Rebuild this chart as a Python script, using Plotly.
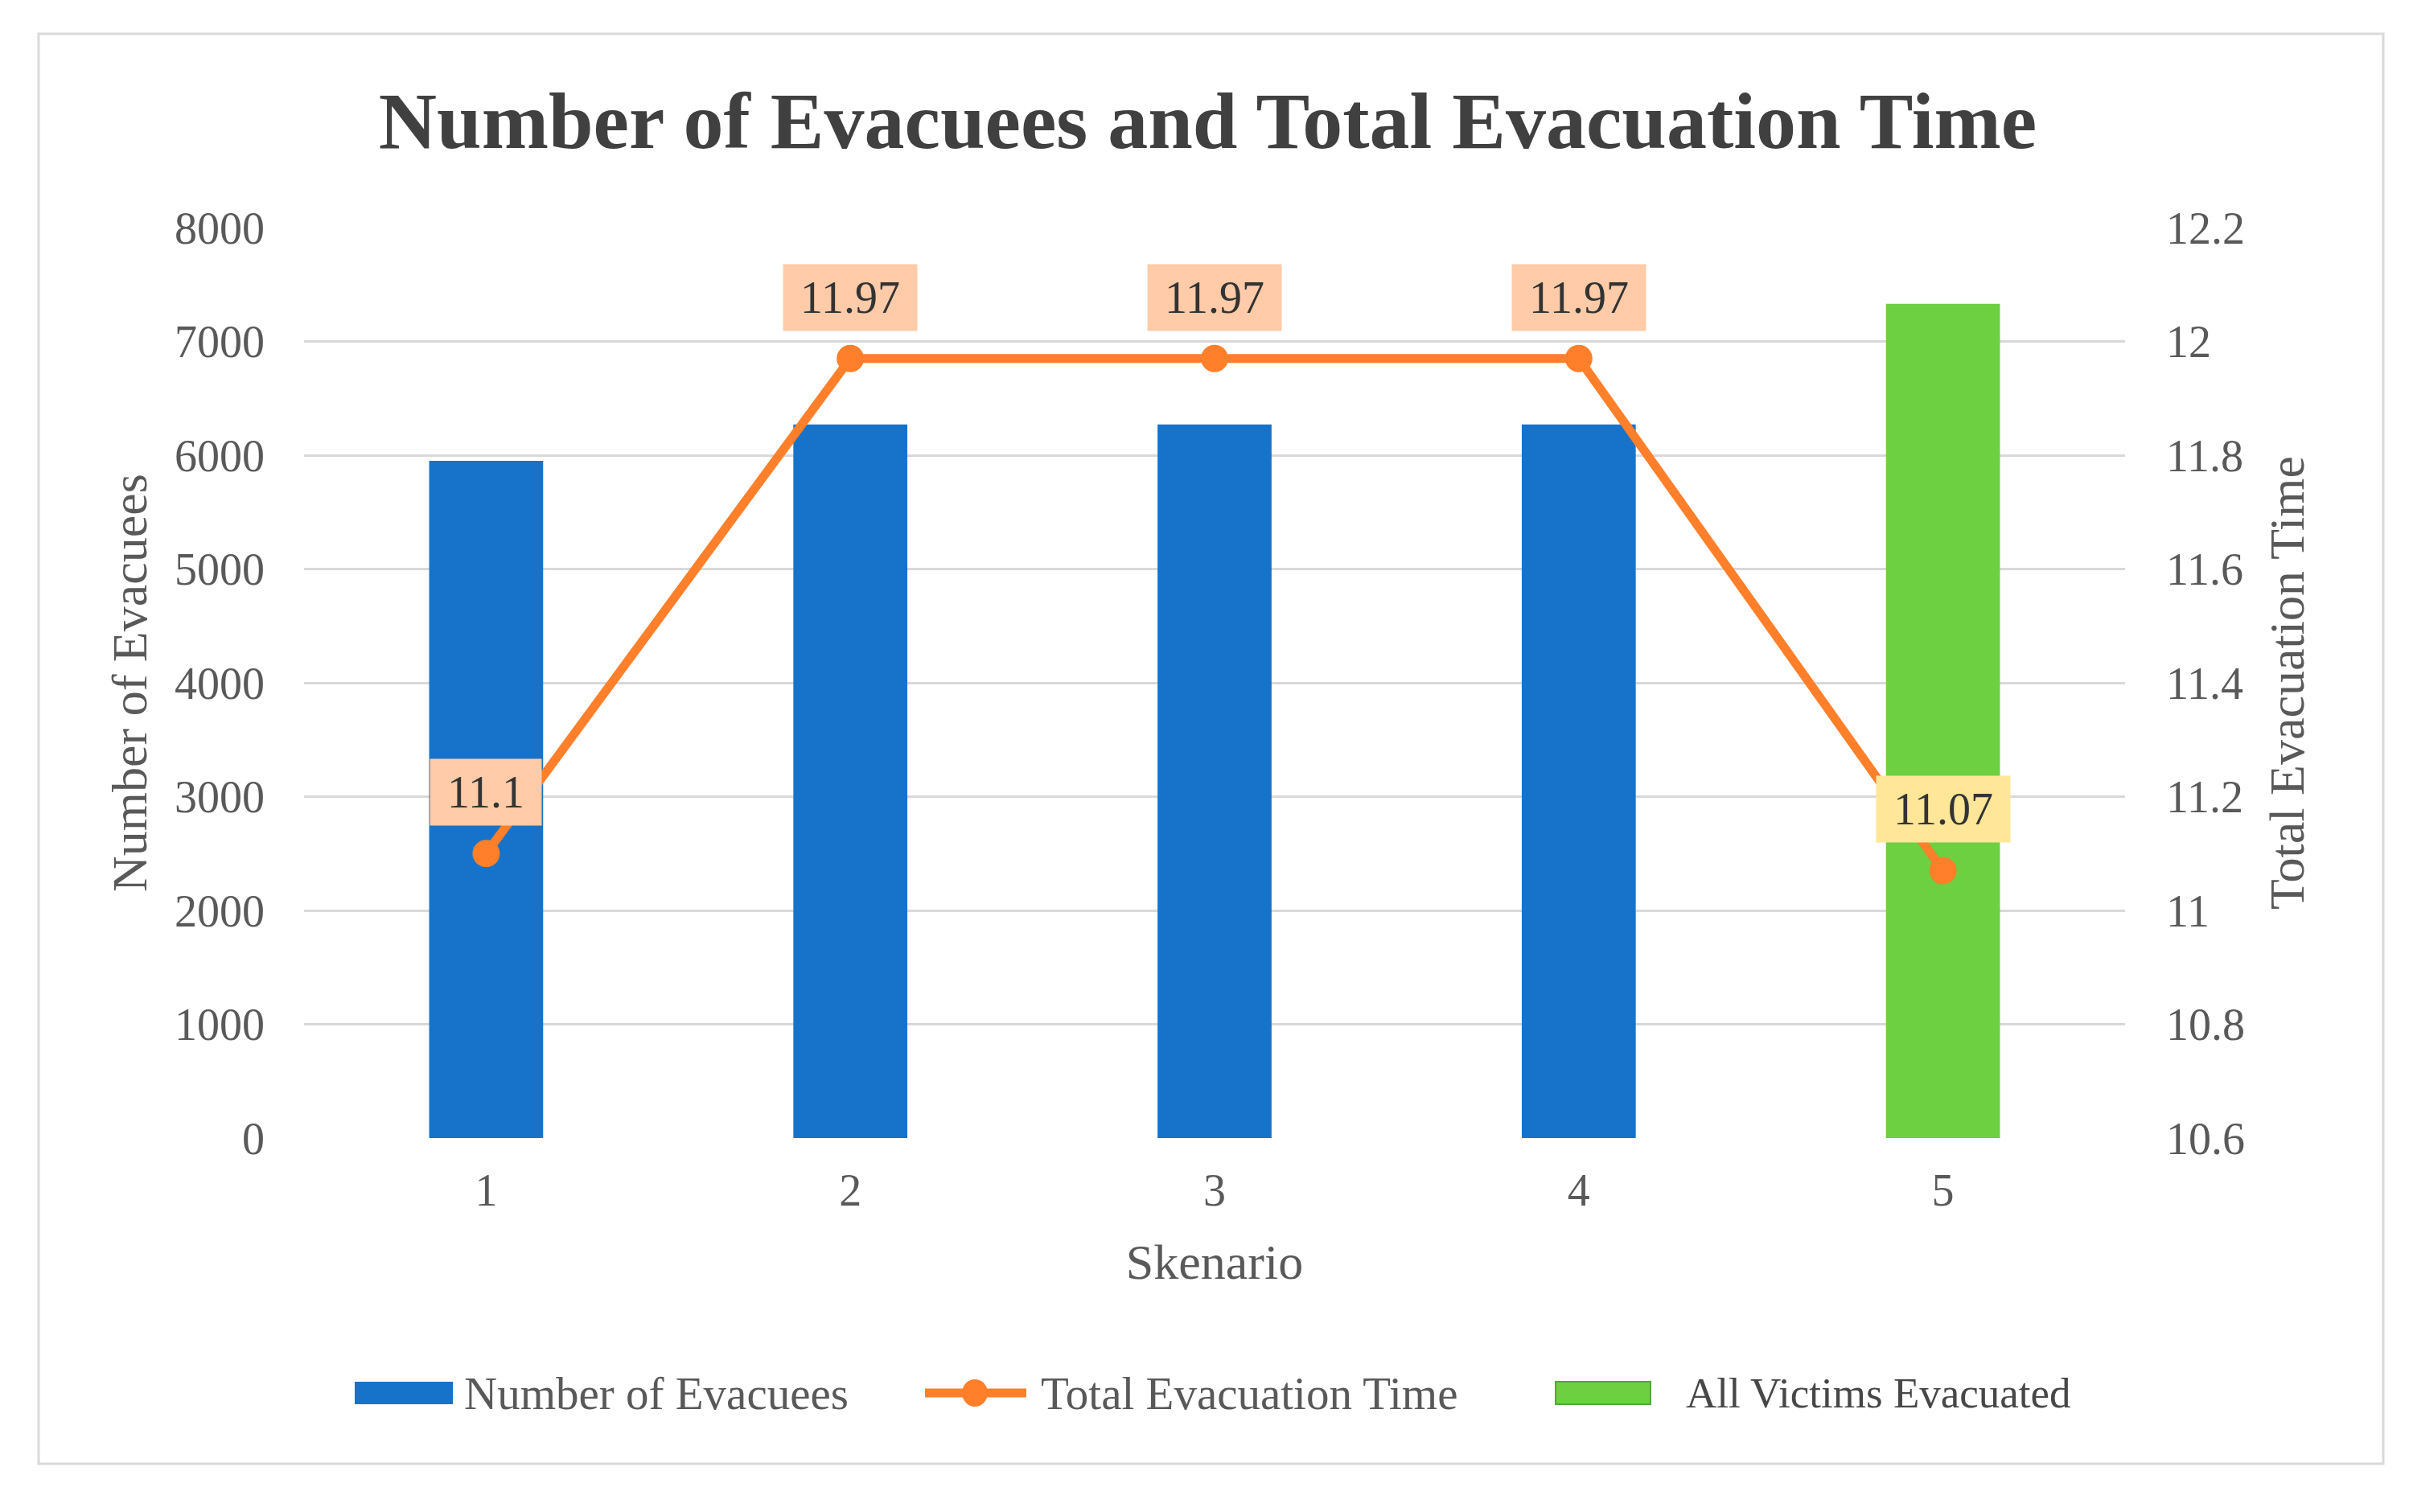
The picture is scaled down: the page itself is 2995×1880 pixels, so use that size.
import plotly.graph_objects as go

# ---- data ----
scenarios = [1, 2, 3, 4, 5]
evacuees = [5950, 6270, 6270, 6270, 7330]
evac_time = [11.1, 11.97, 11.97, 11.97, 11.07]
all_evacuated_flag = [False, False, False, False, True]
label_colors = ["#FFCBA8", "#FFCBA8", "#FFCBA8", "#FFCBA8", "#FFE699"]

left_ticks = [0, 1000, 2000, 3000, 4000, 5000, 6000, 7000, 8000]
right_ticks = [10.6, 10.8, 11.0, 11.2, 11.4, 11.6, 11.8, 12.0, 12.2]
right_tick_text = ["10.6", "10.8", "11", "11.2", "11.4", "11.6", "11.8", "12", "12.2"]

series_names = ["Number of Evacuees", "Total Evacuation Time", "All Victims Evacuated"]

BLUE = "#1773C9"
GREEN = "#6CD040"
ORANGE = "#FF7F2A"
TEXT = "#595959"
FONT = "Liberation Serif"

x_blue = [s for s, f in zip(scenarios, all_evacuated_flag) if not f]
y_blue = [v for v, f in zip(evacuees, all_evacuated_flag) if not f]
x_green = [s for s, f in zip(scenarios, all_evacuated_flag) if f]
y_green = [v for v, f in zip(evacuees, all_evacuated_flag) if f]

fig = go.Figure()
fig.add_trace(go.Bar(x=x_blue, y=y_blue, name=series_names[0],
                     marker=dict(color=BLUE, line=dict(width=0)), width=0.313))
fig.add_trace(go.Scatter(x=scenarios, y=evac_time, name=series_names[1],
                         yaxis="y2", mode="lines+markers",
                         line=dict(color=ORANGE, width=11),
                         marker=dict(color=ORANGE, size=34)))
fig.add_trace(go.Bar(x=x_green, y=y_green, name=series_names[2],
                     marker=dict(color=GREEN, line=dict(width=0)), width=0.313))

# data labels (box width follows the text length, as in the original)
LABEL_SIZE = 56
for xv, yv, c in zip(scenarios, evac_time, label_colors):
    txt = f"{yv:g}"
    n_digits = sum(ch.isdigit() for ch in txt)
    n_dots = txt.count(".")
    box_w = LABEL_SIZE * (0.5 * n_digits + 0.25 * n_dots) + 28
    fig.add_annotation(x=xv, y=yv, xref="x", yref="y2", text=txt,
                       showarrow=False, yshift=76, bgcolor=c,
                       width=box_w, height=70, borderpad=6,
                       font=dict(family=FONT, size=LABEL_SIZE, color="#333333"))

# page has an 8px body margin; figure is shrunk to fit the window
OFF = 8
W, H = 2995 - OFF, 1880 - OFF
ml, mr, mt, mb = 378 - OFF, 353, 283 - OFF, 465
pw, ph = W - ml - mr, H - mt - mb


def px(X):
    return (X - OFF - ml) / pw


def py(Y):
    return (H - mb - (Y - OFF)) / ph


# outer chart border
fig.add_shape(type="rect", xref="paper", yref="paper",
              x0=px(48), x1=px(2963), y0=py(1820), y1=py(42),
              line=dict(color="#D9D9D9", width=3), fillcolor="rgba(0,0,0,0)",
              layer="below")

# legend (drawn manually to match Excel-sized swatches)
LY = 1732
fig.add_shape(type="rect", xref="paper", yref="paper",
              x0=px(441), x1=px(563), y0=py(LY + 14), y1=py(LY - 14),
              line=dict(width=0), fillcolor=BLUE)
fig.add_shape(type="line", xref="paper", yref="paper",
              x0=px(1150), x1=px(1276), y0=py(LY), y1=py(LY),
              line=dict(color=ORANGE, width=11))
fig.add_shape(type="circle", xref="paper", yref="paper",
              x0=px(1212 - 16), x1=px(1212 + 16), y0=py(LY + 17), y1=py(LY - 17),
              line=dict(width=0), fillcolor=ORANGE)
fig.add_shape(type="rect", xref="paper", yref="paper",
              x0=px(1934), x1=px(2052), y0=py(LY + 14), y1=py(LY - 14),
              line=dict(color="#4FA83A", width=2), fillcolor=GREEN)
for name, X, sz, col in zip(series_names, [575, 1292, 2094], [57, 57, 53],
                            [TEXT, TEXT, "#474747"]):
    fig.add_annotation(x=px(X), y=py(LY), xref="paper", yref="paper",
                       text=name, showarrow=False, xanchor="left", yanchor="middle",
                       font=dict(family=FONT, size=sz, color=col))

fig.update_layout(
    width=W, height=H,
    margin=dict(l=ml, r=mr, t=mt, b=mb),
    paper_bgcolor="white", plot_bgcolor="white",
    barmode="overlay",
    showlegend=False,
    font=dict(family=FONT, color=TEXT, size=56),
    title=dict(text="<b>Number of Evacuees and Total Evacuation Time</b>",
               x=0.5, xanchor="center", y=1 - (149 - OFF) / H, yanchor="middle",
               font=dict(family=FONT, size=100, color="#404040")),
    xaxis=dict(range=[0.5, 5.5], tickvals=scenarios, ticktext=[str(s) for s in scenarios],
               showgrid=False, zeroline=False, showline=False,
               ticks="", ticklabelstandoff=27,
               tickfont=dict(size=56, color=TEXT),
               title=dict(text="Skenario", font=dict(size=62, color=TEXT), standoff=36)),
    yaxis=dict(range=[0, 8000], tickvals=left_ticks, showgrid=True,
               gridcolor="#D9D9D9", gridwidth=3, zeroline=False, showline=False,
               ticks="", ticklabelstandoff=48,
               tickfont=dict(size=56, color=TEXT),
               title=dict(text="Number of Evacuees", font=dict(size=62, color=TEXT), standoff=14)),
    yaxis2=dict(range=[10.6, 12.2], tickvals=right_ticks, ticktext=right_tick_text,
                overlaying="y", side="right", showgrid=False, zeroline=False,
                showline=False, ticks="", ticklabelstandoff=50,
                tickfont=dict(size=56, color=TEXT),
                title=dict(text="Total Evacuation Time", font=dict(size=62, color=TEXT), standoff=30)),
)

fig.write_html("out.html")
